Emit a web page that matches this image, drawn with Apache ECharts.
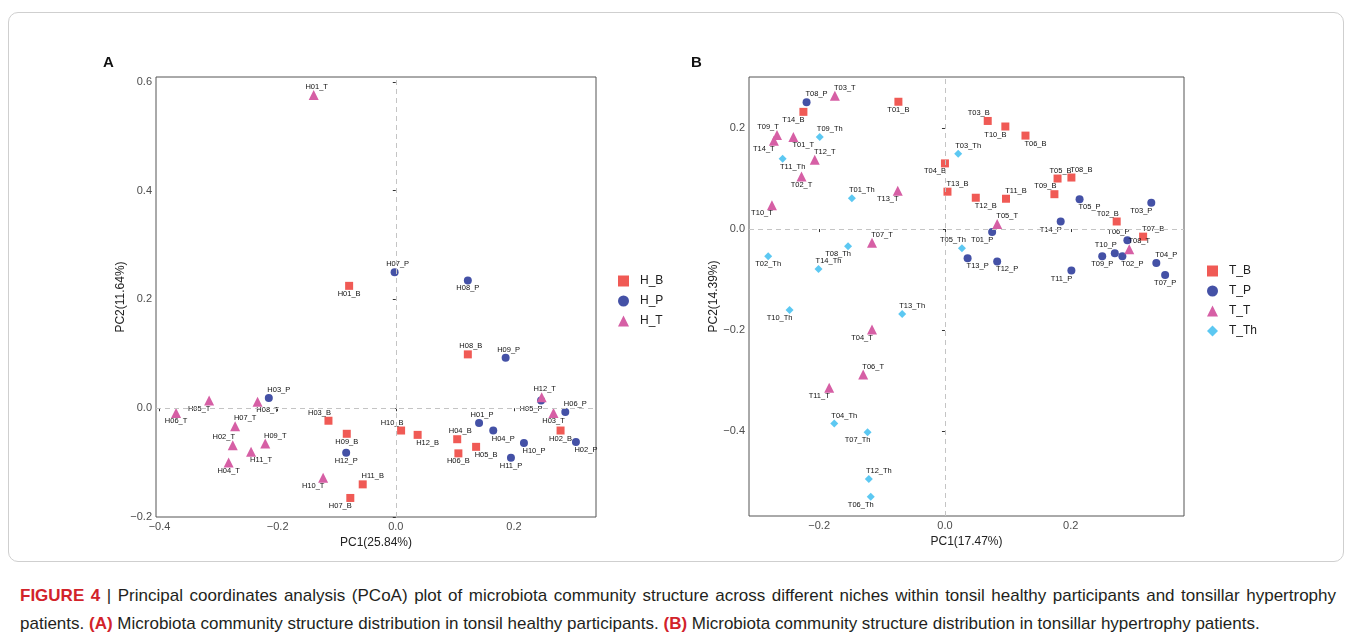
<!DOCTYPE html>
<html>
<head>
<meta charset="utf-8">
<script src="https://cdn.jsdelivr.net/npm/echarts@6/dist/echarts.min.js"></script>
<style>
  html, body { margin: 0; padding: 0; background: #fff; }
  #frame {
    position: absolute; left: 8px; top: 12px; width: 1334px; height: 548px;
    border: 1px solid #cfcfcf; border-radius: 10px;
  }
  #chart { position: absolute; left: 0; top: 0; width: 1352px; height: 570px; }
  #caption {
    position: absolute; left: 20px; top: 582px; width: 1316px;
    font-family: "Liberation Sans", Arial, sans-serif; font-size: 17px;
    line-height: 28px; color: #231f20;
  }
  #caption .l1 { text-align: justify; text-align-last: justify; }
  #caption b { color: #d2232a; }
</style>
</head>
<body>
<div id="frame"></div>
<div id="chart"></div>
<div id="caption">
  <div class="l1"><b>FIGURE 4</b> | Principal coordinates analysis (PCoA) plot of microbiota community structure across different niches within tonsil healthy participants and tonsillar hypertrophy</div>
  <div>patients. <b>(A)</b> Microbiota community structure distribution in tonsil healthy participants. <b>(B)</b> Microbiota community structure distribution in tonsillar hypertrophy patients.</div>
</div>
<script>
// panel A: tonsil healthy, samples H01..H12
const hbX = [-0.079, 0.279, -0.114, 0.104, 0.136, 0.106, -0.077, 0.122, -0.083, 0.009, -0.056, 0.037]
const hbY = [0.225, -0.041, -0.023, -0.057, -0.071, -0.083, -0.165, 0.099, -0.047, -0.041, -0.140, -0.049]
const hpX = [0.141, 0.305, -0.215, 0.165, 0.246, 0.287, -0.002, 0.122, 0.186, 0.217, 0.195, -0.084]
const hpY = [-0.027, -0.062, 0.019, -0.041, 0.014, -0.007, 0.250, 0.235, 0.093, -0.064, -0.091, -0.082]
const htX = [-0.139, -0.276, 0.267, -0.283, -0.316, -0.372, -0.272, -0.234, -0.221, -0.123, -0.245, 0.247]
const htY = [0.576, -0.068, -0.009, -0.100, 0.014, -0.009, -0.033, 0.012, -0.065, -0.128, -0.080, 0.020]

// panel B: tonsillar hypertrophy, samples T01..T14
const tbX = [-0.074, 0.273, 0.068, 0.000, 0.179, 0.128, 0.315, 0.201, 0.174, 0.096, 0.097, 0.049, 0.004, -0.225]
const tbY = [0.252, 0.015, 0.214, 0.130, 0.100, 0.185, -0.015, 0.102, 0.069, 0.203, 0.060, 0.062, 0.074, 0.232]
const tpX = [0.075, 0.282, 0.328, 0.336, 0.214, 0.290, 0.350, -0.220, 0.250, 0.270, 0.201, 0.083, 0.036, 0.184]
const tpY = [-0.006, -0.054, 0.052, -0.067, 0.059, -0.022, -0.091, 0.251, -0.054, -0.048, -0.082, -0.064, -0.058, 0.015]
const ttX = [-0.241, -0.228, -0.175, -0.116, 0.083, -0.130, -0.116, 0.293, -0.267, -0.275, -0.184, -0.207, -0.075, -0.272]
const ttY = [0.182, 0.104, 0.264, -0.199, 0.010, -0.288, -0.027, -0.040, 0.186, 0.047, -0.314, 0.137, 0.076, 0.175]
const tthX = [-0.148, -0.281, 0.021, -0.176, 0.027, -0.118, -0.123, -0.154, -0.199, -0.247, -0.258, -0.121, -0.068, -0.201]
const tthY = [0.061, -0.054, 0.149, -0.385, -0.038, -0.530, -0.402, -0.034, 0.182, -0.160, 0.139, -0.495, -0.168, -0.079]

const ticksA_x = [-0.4, -0.2, 0.0, 0.2]
const ticksA_y = [-0.2, 0.0, 0.2, 0.4, 0.6]
const ticksB_x = [-0.2, 0.0, 0.2]
const ticksB_y = [-0.4, -0.2, 0.0, 0.2]

// where each sample label sits around its point (default below)
const labelSide = {
  H01_T: 't', H07_P: 't', H08_P: 'b', H01_B: 'b', H08_B: 't', H09_P: 't', H12_T: 't', H05_P: 'bl',
  H06_P: 'tr', H03_T: 'b', H01_P: 't', H04_P: 'br', H10_B: 'tl', H12_B: 'br', H04_B: 't', H02_B: 'b',
  H02_P: 'br', H05_B: 'br', H06_B: 'b', H10_P: 'br', H11_P: 'b', H06_T: 'b', H05_T: 'bl', H08_T: 'br',
  H03_P: 'tr', H07_T: 'tr', H02_T: 'tl', H09_T: 'tr', H11_T: 'br', H04_T: 'b', H03_B: 'tl', H09_B: 'b',
  H12_P: 'b', H10_T: 'bl', H11_B: 'tr', H07_B: 'bl',
  T08_P: 'tr', T03_T: 'tr', T14_B: 'bl', T01_B: 'b', T09_T: 'tl', T14_T: 'bl', T01_T: 'br', T09_Th: 'tr',
  T11_Th: 'br', T12_T: 'tr', T02_T: 'b', T01_Th: 'tr', T13_T: 'bl', T10_T: 'bl', T04_B: 'bl', T13_B: 'tr',
  T03_Th: 'tr', T03_B: 'tl', T10_B: 'bl', T06_B: 'br', T05_B: 't', T08_B: 'tr', T09_B: 'tl', T12_B: 'br',
  T11_B: 'tr', T05_P: 'br', T03_P: 'bl', T02_B: 'tl', T14_P: 'bl', T05_T: 'tr', T01_P: 'bl', T07_B: 'tr',
  T06_P: 'tl', T08_T: 'tr', T10_P: 'tl', T02_P: 'br', T09_P: 'b', T04_P: 'tr', T07_P: 'b', T11_P: 'bl',
  T05_Th: 'tl', T13_P: 'br', T12_P: 'br', T07_T: 'tr', T08_Th: 'bl', T02_Th: 'b', T14_Th: 'tr', T10_Th: 'bl',
  T13_Th: 'tr', T04_T: 'bl', T06_T: 'tr', T11_T: 'bl', T04_Th: 'tr', T07_Th: 'bl', T12_Th: 'tr', T06_Th: 'bl'
}
const sideOffset = {
  t: [3, -8], b: [0, 8], tl: [-9, -8], tr: [10, -8], bl: [-10, 8], br: [10, 8]
}

const COL = { B: '#f05a55', P: '#4451a6', T: '#d65fa5', Th: '#5cc8f2' }
const SYM = { B: ['rect', 8], P: ['circle', 8], T: ['triangle', 10], Th: ['diamond', 8] }
const FONT = '"Liberation Sans", Arial, Helvetica, sans-serif'

function mkSeries (name, prefix, kind, xs, ys, gi) {
  const data = xs.map((x, i) => {
    const id = prefix + String(i + 1).padStart(2, '0') + '_' + kind
    const side = labelSide[id] || 'b'
    return {
      name: id,
      value: [x, ys[i]],
      label: { offset: sideOffset[side] }
    }
  })
  return {
    name: name,
    type: 'scatter',
    xAxisIndex: gi,
    yAxisIndex: gi,
    symbol: SYM[kind][0],
    symbolSize: SYM[kind][1],
    itemStyle: { color: COL[kind], opacity: 1 },
    label: {
      show: true,
      position: 'inside',
      formatter: p => p.name,
      fontSize: 7.5,
      fontFamily: FONT,
      color: '#111'
    },
    emphasis: { disabled: true },
    z: 3,
    data: data
  }
}

function zeroLines (gi) {
  return {
    type: 'scatter',
    xAxisIndex: gi,
    yAxisIndex: gi,
    data: [],
    z: 1,
    markLine: {
      silent: true,
      symbol: 'none',
      label: { show: false },
      lineStyle: { type: [5, 4], color: '#c4c4c4', width: 1 },
      data: [{ xAxis: 0 }, { yAxis: 0 }]
    }
  }
}

const fmt = v => (v < 0 ? '\u2212' : '') + Math.abs(v).toFixed(1)

function xAx (gi, min, max, ticks, title) {
  return {
    gridIndex: gi, type: 'value', min: min, max: max,
    name: title, nameLocation: 'middle', nameGap: 15,
    nameTextStyle: { fontSize: 12, color: '#222', fontFamily: FONT },
    axisLine: { show: false },
    axisTick: { show: true, length: 3, customValues: ticks, lineStyle: { color: '#333' } },
    axisLabel: { customValues: ticks, formatter: fmt, fontSize: 11, color: '#4d4d4d', margin: 4, fontFamily: FONT },
    splitLine: { show: false }
  }
}
function yAx (gi, min, max, ticks, title) {
  return {
    gridIndex: gi, type: 'value', min: min, max: max,
    name: title, nameLocation: 'middle', nameGap: 28, nameRotate: 90,
    nameTextStyle: { fontSize: 12, color: '#222', fontFamily: FONT },
    axisLine: { show: false },
    axisTick: { show: true, length: 3, customValues: ticks, lineStyle: { color: '#333' } },
    axisLabel: { customValues: ticks, formatter: fmt, fontSize: 11, color: '#4d4d4d', margin: 4, fontFamily: FONT },
    splitLine: { show: false }
  }
}

const legendBase = {
  orient: 'vertical', padding: 0, itemWidth: 11, itemHeight: 11, itemGap: 8,
  textStyle: { fontSize: 12, color: '#222', fontFamily: FONT, padding: [0, 0, 0, 6] },
  selectedMode: false
}

const chart = echarts.init(document.getElementById('chart'))
chart.setOption({
  animation: false,
  textStyle: { fontFamily: FONT },
  graphic: [
    { type: 'text', left: 103, top: 55, style: { text: 'A', font: 'bold 15px ' + FONT, fill: '#111' } },
    { type: 'text', left: 691, top: 55, style: { text: 'B', font: 'bold 15px ' + FONT, fill: '#111' } }
  ],
  grid: [
    { left: 156, top: 77, width: 440, height: 440, show: true, borderColor: '#555', borderWidth: 1 },
    { left: 749, top: 77, width: 435, height: 439, show: true, borderColor: '#555', borderWidth: 1 }
  ],
  xAxis: [
    xAx(0, -0.406, 0.339, ticksA_x, 'PC1(25.84%)'),
    xAx(1, -0.3115, 0.380, ticksB_x, 'PC1(17.47%)')
  ],
  yAxis: [
    yAx(0, -0.2, 0.609, ticksA_y, 'PC2(11.64%)'),
    yAx(1, -0.568, 0.301, ticksB_y, 'PC2(14.39%)')
  ],
  legend: [
    Object.assign({}, legendBase, { data: ['H_B', 'H_P', 'H_T'], left: 618, top: 275 }),
    Object.assign({}, legendBase, { data: ['T_B', 'T_P', 'T_T', 'T_Th'], left: 1207, top: 265 })
  ],
  series: [
    zeroLines(0),
    zeroLines(1),
    mkSeries('H_B', 'H', 'B', hbX, hbY, 0),
    mkSeries('H_P', 'H', 'P', hpX, hpY, 0),
    mkSeries('H_T', 'H', 'T', htX, htY, 0),
    mkSeries('T_B', 'T', 'B', tbX, tbY, 1),
    mkSeries('T_P', 'T', 'P', tpX, tpY, 1),
    mkSeries('T_T', 'T', 'T', ttX, ttY, 1),
    mkSeries('T_Th', 'T', 'Th', tthX, tthY, 1)
  ]
})
</script>
</body>
</html>
